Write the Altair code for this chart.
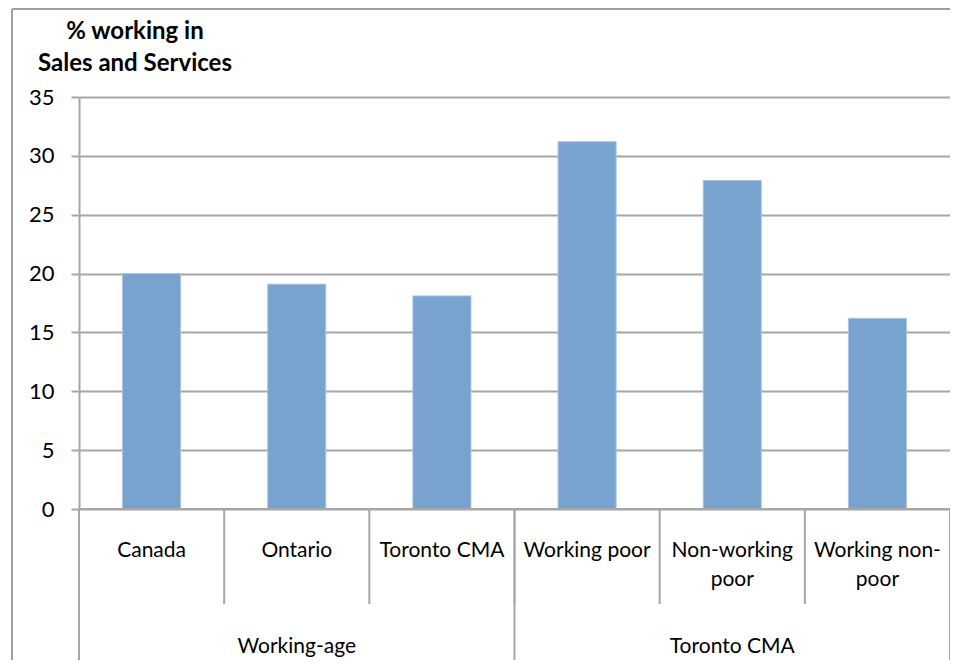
import altair as alt
import pandas as pd

# --- data ---------------------------------------------------------------
categories = ["Canada", "Ontario", "Toronto CMA", "Working poor",
              "Non-working\npoor", "Working non-\npoor"]
groups = ["Working-age", "Working-age", "Working-age",
          "Toronto CMA", "Toronto CMA", "Toronto CMA"]
values = [20.0, 19.1, 18.1, 31.2, 27.9, 16.2]
title_lines = ["% working in", "Sales and Services"]
y_ticks = [0, 5, 10, 15, 20, 25, 30, 35]

# --- style --------------------------------------------------------------
W, H = 871, 412
FONT = "Lato"
FS = 21
GRID = "#A6A6A6"
BAR = "#77A3CE"

# --- frames -------------------------------------------------------------
bars_df = pd.DataFrame({"category": categories, "group": groups, "value": values})
bars_df["idx"] = range(len(bars_df))
bars_df["left"] = bars_df["idx"] + 0.3
bars_df["right"] = bars_df["idx"] + 0.7
bars_df["mid"] = bars_df["idx"] + 0.5
bars_df["zero"] = 0.0

edges_df = pd.DataFrame({"edge": list(range(len(categories) + 1))})

# group spans (start/end index of each run of the same group)
spans = []
start = 0
for i in range(1, len(groups) + 1):
    if i == len(groups) or groups[i] != groups[start]:
        spans.append({"group": groups[start], "start": start, "end": i,
                      "mid": (start + i) / 2})
        start = i
group_df = pd.DataFrame(spans)
group_edges_df = pd.DataFrame(
    {"edge": sorted({s["start"] for s in spans} | {s["end"] for s in spans})}
)

title_df = pd.DataFrame({"t": ["\n".join(title_lines)]})
one_df = pd.DataFrame({"v": [0]})

xs = alt.Scale(domain=[0, len(categories)], nice=False, zero=False)
ys = alt.Scale(domain=[0, 35], nice=False)

y_axis = alt.Axis(
    values=y_ticks, title=None, grid=True,
    gridColor=GRID, gridWidth=2,
    domainColor=GRID, domainWidth=2,
    tickColor=GRID, tickWidth=2, tickSize=8,
    labelFont=FONT, labelFontSize=22, labelColor="black",
    labelPadding=17,
)

# --- layers -------------------------------------------------------------
bars = (
    alt.Chart(bars_df)
    .mark_rect(color=BAR, stroke="#A9C5E2", strokeWidth=1)
    .encode(
        x=alt.X("left:Q", scale=xs, axis=None),
        x2="right:Q",
        y=alt.Y("value:Q", scale=ys, axis=y_axis),
        y2="zero:Q",
    )
)

# horizontal category axis line drawn over the bars' feet
baseline = (
    alt.Chart(one_df)
    .mark_rule(color=GRID, strokeWidth=2)
    .encode(x=alt.value(0), x2=alt.value(W), y=alt.value(H))
)

cat_sep = (
    alt.Chart(edges_df)
    .mark_rule(color=GRID, strokeWidth=2)
    .encode(x=alt.X("edge:Q", scale=xs, axis=None),
            y=alt.value(H), y2=alt.value(H + 95))
)

grp_sep = (
    alt.Chart(group_edges_df)
    .mark_rule(color=GRID, strokeWidth=2)
    .encode(x=alt.X("edge:Q", scale=xs, axis=None),
            y=alt.value(H), y2=alt.value(H + 160))
)

cat_labels = (
    alt.Chart(bars_df)
    .mark_text(font=FONT, fontSize=FS, color="black", lineBreak="\n",
               lineHeight=29, baseline="alphabetic", align="center")
    .encode(x=alt.X("mid:Q", scale=xs, axis=None),
            y=alt.value(H + 48), text="category:N")
)

grp_labels = (
    alt.Chart(group_df)
    .mark_text(font=FONT, fontSize=FS, color="black",
               baseline="alphabetic", align="center")
    .encode(x=alt.X("mid:Q", scale=xs, axis=None),
            y=alt.value(H + 144), text="group:N")
)

title = (
    alt.Chart(title_df)
    .mark_text(font=FONT, fontSize=24, fontWeight="bold", color="black",
               lineBreak="\n", lineHeight=32, baseline="alphabetic",
               align="center")
    .encode(x=alt.value(56), y=alt.value(-58), text="t:N")
)

# outer chart border (Excel chart frame)
frame_top = (
    alt.Chart(one_df)
    .mark_rule(color="#A0A0A0", strokeWidth=2)
    .encode(x=alt.value(-67), x2=alt.value(W + 10), y=alt.value(-88))
)
frame_left = (
    alt.Chart(one_df)
    .mark_rule(color="#A0A0A0", strokeWidth=2)
    .encode(x=alt.value(-67), y=alt.value(-88), y2=alt.value(H + 160))
)

chart = (
    alt.layer(bars, baseline, cat_sep, grp_sep, cat_labels, grp_labels,
              title, frame_top, frame_left)
    .properties(
        width=W, height=H,
        autosize=alt.AutoSizeParams(type="none"),
        padding={"left": 71, "top": 89, "right": 0, "bottom": 151},
        background="white",
    )
    .configure_view(stroke=None)
)

chart.save("out.html", embed_options={"renderer": "svg", "actions": False})
